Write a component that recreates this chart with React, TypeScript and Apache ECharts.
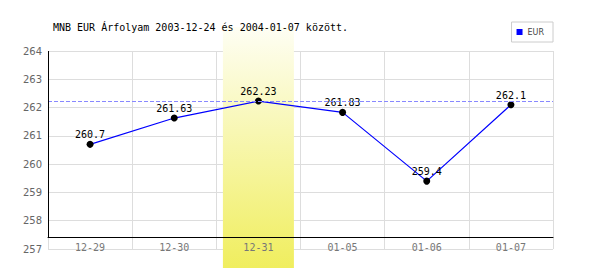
import React, { useEffect, useRef } from "react";
import * as echarts from "echarts";

const titleText = "MNB EUR Árfolyam 2003-12-24 és 2004-01-07 között.";
const seriesName = "EUR";
const categories = ["12-29", "12-30", "12-31", "01-05", "01-06", "01-07"];
const values = [260.7, 261.63, 262.23, 261.83, 259.4, 262.1];
const highlightCategory = "12-31";
const yMin = 257;
const yMax = 264;
const yStep = 1;

export default function App() {
  const ref = useRef<HTMLDivElement>(null);
  useEffect(() => {
    if (!ref.current) return;
    const chart = echarts.init(ref.current, null, { renderer: "svg" });
    const mono = "'DejaVu Sans Mono', monospace";
    const sans = "'DejaVu Sans', sans-serif";
    const bandData = categories.map((c) => (c === highlightCategory ? 1 : null));
    chart.setOption({
      animation: false,
      backgroundColor: "#ffffff",
      title: {
        text: titleText,
        left: 53,
        top: 22,
        padding: 0,
        textStyle: { fontFamily: mono, fontSize: 10, fontWeight: "normal", color: "#000" },
      },
      legend: {
        right: 47,
        top: 22,
        padding: [6, 9, 6, 5],
        borderColor: "#cccccc",
        borderWidth: 1,
        backgroundColor: "#ffffff",
        icon: "rect",
        itemWidth: 6,
        itemHeight: 6,
        textStyle: { fontFamily: sans, fontSize: 8, color: "#444" },
        data: [{ name: seriesName, itemStyle: { color: "#0000ff" } }],
      },
      grid: [
        { left: 48, right: 47, top: 51, bottom: 21 },
        { left: 48, right: 47, top: 27, bottom: 2 },
      ],
      xAxis: [
        {
          type: "category",
          data: categories,
          gridIndex: 0,
          boundaryGap: true,
          axisLine: { show: false },
          axisTick: { show: false },
          axisLabel: { show: false },
          splitLine: { show: true, lineStyle: { color: "#dddddd", width: 1 } },
          z: 0,
        },
        {
          type: "category",
          data: categories,
          gridIndex: 0,
          boundaryGap: true,
          position: "bottom",
          offset: -12,
          axisLine: { show: true, lineStyle: { color: "#000", width: 1 } },
          axisTick: { show: false },
          axisLabel: { margin: 5, color: "#777", fontFamily: mono, fontSize: 10 },
          splitLine: { show: false },
          z: 5,
        },
        {
          type: "category",
          data: categories,
          gridIndex: 1,
          show: false,
        },
      ],
      yAxis: [
        {
          type: "value",
          gridIndex: 0,
          min: yMin,
          max: yMax,
          interval: yStep,
          axisLine: { show: false },
          axisTick: { show: false },
          axisLabel: { margin: 6, color: "#666", fontFamily: sans, fontSize: 10 },
          splitLine: { show: true, lineStyle: { color: "#dddddd", width: 1 } },
          z: 0,
        },
        { type: "value", gridIndex: 1, min: 0, max: 1, show: false },
      ],
      series: [
        {
          name: "maxline",
          type: "line",
          xAxisIndex: 0,
          yAxisIndex: 0,
          data: values,
          symbol: "none",
          lineStyle: { opacity: 0 },
          z: 1,
          silent: true,
          markLine: {
            symbol: "none",
            silent: true,
            label: { show: false },
            emphasis: { disabled: true },
            lineStyle: { color: "#8888ff", opacity: 1, type: [4, 2], width: 1 },
            data: [{ type: "max" }],
          },
        },
        {
          name: "band",
          type: "bar",
          xAxisIndex: 2,
          yAxisIndex: 1,
          data: bandData,
          barWidth: 71,
          z: 2,
          silent: true,
          itemStyle: {
            color: new echarts.graphic.LinearGradient(0, 0, 0, 1, [
              { offset: 0, color: "#fefef4" },
              { offset: 1, color: "#f0ee5e" },
            ]),
          },
        },
        {
          name: seriesName,
          type: "line",
          xAxisIndex: 1,
          yAxisIndex: 0,
          data: values,
          z: 3,
          symbol: "circle",
          symbolSize: 7,
          itemStyle: { color: "#000" },
          lineStyle: { color: "#0000ff", width: 1.2 },
          label: {
            show: true,
            position: "top",
            distance: 1,
            color: "#000",
            fontFamily: mono,
            fontSize: 10,
          },
        },
      ],
      graphic: [
        {
          type: "line",
          shape: { x1: 48.5, y1: 51, x2: 48.5, y2: 238 },
          style: { stroke: "#000", lineWidth: 1 },
          z: 10,
        },
      ],
    });
    return () => chart.dispose();
  }, []);
  return (
    <div
      ref={ref}
      style={{ position: "fixed", left: 0, top: 0, width: 600, height: 270 }}
    />
  );
}
